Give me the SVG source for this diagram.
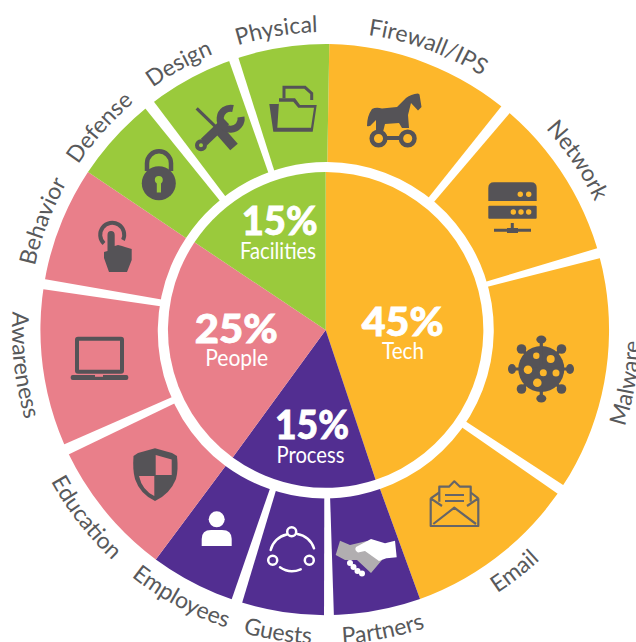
<svg xmlns="http://www.w3.org/2000/svg" width="636" height="642" viewBox="0 0 636 642">
<style>
.tech{fill:#FDB72B}.proc{fill:#522E91}.peop{fill:#E97F8A}.faci{fill:#9ACA3C}
.div{fill:#fff}
.lab{font-family:"Lato","Liberation Sans",sans-serif;font-size:23px;fill:#58595B;text-anchor:middle}
.pct{font-family:"Lato","Liberation Sans",sans-serif;font-size:40px;font-weight:900;fill:#fff;stroke:#fff;stroke-width:.8;text-anchor:middle}
.cat{font-family:"Lato","Liberation Sans",sans-serif;font-size:24px;fill:#fff;text-anchor:middle}
.ic{fill:#555357}
.icl{fill:none;stroke:#555357}
.env{fill:none;stroke:#666567;stroke-width:2.2;stroke-linejoin:round}
.wl{fill:none;stroke:#fff;stroke-width:2.500;stroke-linecap:round}
</style>
<defs>
<path id="cw" d="M28 330A298 298 0 0 1 624 330"/>
<path id="ccw" d="M12 330A314 314 0 0 0 640 330"/>
</defs>

<g id="category-tech">
<path class="tech" d="M329.3 44A286 286 0 0 1 420 599L380 489A168 168 0 0 0 327.3 162Z"/>
<path class="tech" d="M325.7 330V172A158 158 0 0 1 375.6 479.8Z"/>
<text class="pct" x="402.7" y="335.7" textLength="82" lengthAdjust="spacingAndGlyphs">45%</text>
<text class="cat" x="403" y="359" textLength="42" lengthAdjust="spacingAndGlyphs">Tech</text>
</g>
<g id="category-process">
<path class="proc" d="M420 599A286 286 0 0 1 155.8 559.5L225.5 466A168 168 0 0 0 380 489Z"/>
<path class="proc" d="M325.7 330L375.6 479.8A158 158 0 0 1 232.7 457.5Z"/>
<text class="pct" x="312" y="439.3" textLength="74" lengthAdjust="spacingAndGlyphs">15%</text>
<text class="cat" x="310.5" y="463" textLength="68" lengthAdjust="spacingAndGlyphs">Process</text>
</g>
<g id="category-people">
<path class="peop" d="M155.8 559.5A286 286 0 0 1 88 172L186 238A168 168 0 0 0 225.5 466Z"/>
<path class="peop" d="M325.7 330L232.7 457.5A158 158 0 0 1 194.5 242.3Z"/>
<text class="pct" x="236.3" y="343" textLength="83" lengthAdjust="spacingAndGlyphs">25%</text>
<text class="cat" x="236.7" y="366" textLength="63" lengthAdjust="spacingAndGlyphs">People</text>
</g>
<g id="category-facilities">
<path class="faci" d="M88 172A286 286 0 0 1 329.3 44L327.3 162A168 168 0 0 0 186 238Z"/>
<path class="faci" d="M325.7 330L194.5 242.3A158 158 0 0 1 325.7 172Z"/>
<text class="pct" x="279.7" y="235" textLength="76" lengthAdjust="spacingAndGlyphs">15%</text>
<text class="cat" x="278" y="259" textLength="76" lengthAdjust="spacingAndGlyphs">Facilities</text>
</g>

<g id="connectors">
<polygon class="div" points="228,57.7 237,53.3 275,173 269.5,176"/>
<polygon class="div" points="151.5,98.5 142.5,105 221.3,202.5 227,198.5"/>
<polygon class="div" points="41,278.6 38.3,288.6 162,306.4 163,299.7"/>
<polygon class="div" points="60.4,446 65.4,456 177.5,402 174.5,396"/>
<polygon class="div" points="230.4,603 241,606.5 276.7,488.1 270.7,486.4"/>
<polygon class="div" points="324,619 334,619 330,494.5 324.3,494.5"/>
<polygon class="div" points="567.7,487.9 561.7,496.5 460.3,426.2 464.3,420.6"/>
<polygon class="div" points="603,246.5 606.5,256.5 485.7,287.3 484,282.3"/>
<polygon class="div" points="504.8,101.9 513.5,108.6 432.7,203.5 427,199.5"/>
</g>

<g id="firewall">
<path class="ic" d="M372 109Q376 107 382 108.500L397 107L406 98Q411 94 418 93.500L419.500 94.500L421.500 107L418 110.500L411 103L408 115L409 128H402L399 123L385 124L383 132H376V120L372 124Q370 127 367 126Q367 116 372 109Z"/>
<circle cx="378.500" cy="138.500" r="6.800" fill="#FDB72B" stroke="#555357" stroke-width="4.500"/>
<circle cx="407.700" cy="138.500" r="6.800" fill="#FDB72B" stroke="#555357" stroke-width="4.500"/>
<path class="icl" stroke-width="4" d="M385 138H401"/>
<text class="lab" transform="rotate(19.800 326 330)"><textPath href="#cw" startOffset="50%">Firewall/IPS</textPath></text>
</g>
<g id="network">
<path class="ic" d="M488.300 201V188Q488.300 182.300 494 182.300H531Q536.700 182.300 536.700 188V201Z"/>
<rect class="ic" x="488.300" y="205.700" width="48.400" height="13" rx="1"/>
<g fill="#FDB72B"><circle cx="520.300" cy="194.300" r="2.700"/><circle cx="528.700" cy="194.300" r="2.700"/><circle cx="513.300" cy="212" r="2.700"/><circle cx="521" cy="212" r="2.700"/><circle cx="528.700" cy="212" r="2.700"/></g>
<path class="icl" stroke-width="3" d="M512.300 223V229M494 230.300H531"/>
<rect class="ic" x="507" y="228" width="11" height="5"/>
<text class="lab" transform="rotate(56 326 330)"><textPath href="#cw" startOffset="50%">Network</textPath></text>
</g>
<g id="malware">
<circle class="ic" cx="541.300" cy="369" r="23"/>
<path class="icl" stroke-width="3.200" d="M541.300 369V340M541.300 369V398M541.300 369H512M541.300 369H570.500M541.300 369L521.300 349M541.300 369L561.300 349M541.300 369L521.300 389M541.300 369L561.300 389"/>
<g class="ic"><ellipse cx="541.300" cy="339.500" rx="5" ry="4"/><ellipse cx="541.300" cy="398.500" rx="5" ry="4"/><ellipse cx="512" cy="369" rx="4" ry="5"/><ellipse cx="570" cy="369" rx="4" ry="5"/><circle cx="521.500" cy="349" r="4.800"/><circle cx="561.500" cy="349" r="4.800"/><circle cx="521.500" cy="389" r="4.800"/><circle cx="561.500" cy="389" r="4.800"/></g>
<g fill="#FDB72B"><circle cx="536.300" cy="355.700" r="3.200"/><circle cx="550.700" cy="359" r="4"/><circle cx="528" cy="369.700" r="4.300"/><circle cx="543.300" cy="372.700" r="3.500"/><circle cx="556" cy="373" r="3.500"/><circle cx="537.300" cy="382.700" r="4.300"/></g>
<text class="lab" transform="rotate(-80 326 330)"><textPath href="#ccw" startOffset="50%">Malware</textPath></text>
</g>
<g id="email">
<path class="env" d="M430.700 498.300V526H478.300V498.300M433.300 524L454.300 507.700L476 524M430.700 498.300L442 506M478.300 498.300L467 506M430.700 498.300L439.300 492.500M478.300 498.300L470.700 492.500"/>
<path class="env" d="M439.300 501.700V486.700H449L454.300 481.300L460 486.700H470.700V501.700M445 495H464M445 501H464"/>
<text class="lab" transform="rotate(-38 326 330)"><textPath href="#ccw" startOffset="50%">Email</textPath></text>
</g>
<g id="partners">
<path fill="#B1AEB0" d="M340 540.700L335.700 555L345 560L350 545ZM350 545L367 541L382 560L371 573L357 560L345 560Z"/>
<path fill="#fff" d="M385 543.300L395 540.700L396.700 557.300L386.700 558.300ZM356 547L371 539L385 543.300L387 558L379 561L365 551L358 552.500Q354 550 356 547Z"/>
<g fill="#fff"><circle cx="350" cy="563" r="3"/><circle cx="353.500" cy="567" r="3"/><circle cx="357.500" cy="571" r="3"/><circle cx="362" cy="573.500" r="3"/></g>
<text class="lab" transform="rotate(-10.700 326 330)"><textPath href="#ccw" startOffset="50%">Partners</textPath></text>
</g>
<g id="guests">
<circle class="wl" cx="291.700" cy="531.700" r="4.500"/><circle class="wl" cx="272.700" cy="560.300" r="4.500"/><circle class="wl" cx="309.300" cy="560.300" r="4.500"/>
<path class="wl" d="M286.700 534.500A21 21 0 0 0 270.700 550M297.300 534A21 21 0 0 1 314 548.300M280 567.300A21 21 0 0 0 300.700 569.300"/>
<text class="lab" transform="rotate(9 326 330)"><textPath href="#ccw" startOffset="50%">Guests</textPath></text>
</g>
<g id="employees">
<circle fill="#fff" cx="216.700" cy="519.300" r="8"/>
<path fill="#fff" d="M201.700 546V539Q201.700 530 211 530H222Q231.700 530 231.700 539V546Z"/>
<text class="lab" transform="rotate(28.400 326 330)"><textPath href="#ccw" startOffset="50%">Employees</textPath></text>
</g>
<g id="education">
<path class="ic" d="M155 448.300L172 453L177 456Q178.500 470 176 479Q170 494 155 501Q140 494 135 479Q132.500 470 133.500 456L138 453Z"/>
<path class="peop" d="M155.700 455L171.700 459.500V475H155.700ZM139 476H154.300V496Q142 490 139 476Z"/>
<text class="lab" transform="rotate(52 326 330)"><textPath href="#ccw" startOffset="50%">Education</textPath></text>
</g>
<g id="awareness">
<rect class="icl" stroke-width="4" x="77" y="338.700" width="45" height="33" rx="1"/>
<rect class="ic" x="70.700" y="375" width="57.600" height="5" rx="2"/>
<rect class="peop" x="95" y="375" width="8" height="1.800"/>
<text class="lab" transform="rotate(83.400 326 330)"><textPath href="#ccw" startOffset="50%">Awareness</textPath></text>
</g>
<g id="behavior">
<path class="icl" stroke-width="4" d="M104 243.500A12 12 0 1 1 123 240"/>
<path class="ic" d="M107.500 235Q107.500 231 111 231Q114.700 231 114.700 235V246L118 245L122 246L125 247L131.700 249V260L127 272H109L104 258V252L107.500 251Z"/>
<text class="lab" transform="rotate(-69 326 330)"><textPath href="#cw" startOffset="50%">Behavior</textPath></text>
</g>
<g id="defense">
<circle class="ic" cx="158.800" cy="183.300" r="17"/>
<path class="icl" stroke-width="4.500" d="M147 171V163.300A12 12 0 0 1 171 163.300V171"/>
<path class="faci" d="M154.800 180A4 4 0 1 1 162.800 180Q162.800 182 161 183.500L161 192.500H156.800V183.500Q154.800 182 154.800 180Z"/>
<text class="lab" transform="rotate(-48.200 326 330)"><textPath href="#cw" startOffset="50%">Defense</textPath></text>
</g>
<g id="design">
<path class="icl" stroke-width="3.200" d="M196.700 108.300L217.300 128.300"/>
<path class="icl" stroke-width="10" d="M220 131L234 147"/>
<path class="icl" stroke-width="9" d="M204 142L226 121"/>
<circle cx="201" cy="145.300" r="4" fill="#9ACA3C" stroke="#555357" stroke-width="4"/>
<path class="icl" stroke-width="7" d="M233 108.500A10.500 10.500 0 1 0 241 117"/>
<text class="lab" transform="rotate(-28.900 326 330)"><textPath href="#cw" startOffset="50%">Design</textPath></text>
</g>
<g id="physical">
<path class="icl" stroke-width="3" d="M284 98.300V87.300H305L311.700 93.300V100"/>
<path class="ic" fill-rule="evenodd" d="M269.300 104L273.300 131.700H312.700L316.700 105H300L295 98.300H279V104ZM279 101.700H293.300L298.300 107.700H314L311 127.700H277.300Z"/>
<text class="lab" transform="rotate(-9.400 326 330)"><textPath href="#cw" startOffset="50%">Physical</textPath></text>
</g>
</svg>
